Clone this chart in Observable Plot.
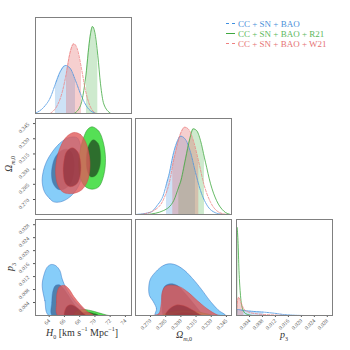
<!DOCTYPE html>
<html><head><meta charset="utf-8">
<script src="https://cdn.jsdelivr.net/npm/d3@7"></script>
<script src="https://cdn.jsdelivr.net/npm/@observablehq/plot@0.6"></script>
<style>
body{margin:0;background:#fff;}
#root{position:relative;width:350px;height:350px;font-family:"Liberation Serif",serif;color:#333;overflow:hidden;}
.lab{position:absolute;font-size:10px;white-space:nowrap;color:#333;line-height:1;}
.leg{position:absolute;font-size:9px;white-space:nowrap;line-height:10px;}
.leg span.s{display:inline-block;width:9px;height:0;vertical-align:middle;margin-right:3px;position:relative;top:-1px;}
</style></head><body><div id="root"></div>
<script>
// ---------------- data ----------------
const seriesNames = ["CC + SN + BAO", "CC + SN + BAO + R21", "CC + SN + BAO + W21"];
const h0Ticks = [64, 66, 68, 70, 72, 74];
const omTicks = [0.270, 0.285, 0.300, 0.315, 0.330, 0.345];
const p3Ticks = [0.004, 0.008, 0.012, 0.016, 0.020, 0.024, 0.028];
const h0Domain = [62.2, 74.8];
const omDomain = [0.2552, 0.3500];
const p3Domain = [0, 0.0296];

// 1D marginal of H0 (value, relative density)
const h0Blue = [[62.2,0.003],[63.29,0.066],[64.17,0.17],[64.82,0.31],[65.48,0.44],[66.14,0.50],[66.79,0.466],[67.45,0.344],[68.11,0.205],[68.98,0.066],[70.07,0.003]];
const h0Green = [[67.32,0.003],[68.11,0.083],[68.54,0.24],[68.89,0.45],[69.19,0.69],[69.42,0.83],[69.68,0.906],[69.98,0.847],[70.38,0.604],[70.73,0.31],[71.16,0.10],[72.04,0.003]];
const h0Red = [[64.17,0.003],[65.05,0.083],[65.70,0.22],[66.27,0.43],[66.70,0.62],[67.23,0.726],[67.75,0.656],[68.24,0.466],[68.76,0.24],[69.33,0.083],[70.07,0.003]];
const h0Bands = {blue: [64.82, 67.45], green: [68.89, 70.38], red: [66.27, 68.24]};

// 1D marginal of Omega_m0
const omBlue = [[0.2552,0],[0.2700,0.024],[0.2766,0.094],[0.2831,0.215],[0.2858,0.32],[0.2881,0.406],[0.2930,0.649],[0.2964,0.76],[0.2996,0.816],[0.3046,0.781],[0.3095,0.649],[0.3144,0.44],[0.3194,0.25],[0.3260,0.094],[0.3342,0.018],[0.3424,0]];
const omGreen = [[0.2668,0],[0.2831,0.042],[0.2930,0.146],[0.2980,0.29],[0.2996,0.336],[0.3046,0.58],[0.3088,0.788],[0.3122,0.892],[0.3155,0.875],[0.3194,0.77],[0.3233,0.59],[0.3243,0.545],[0.3293,0.32],[0.3352,0.146],[0.3424,0.035],[0.3490,0]];
const omRed = [[0.2601,0],[0.2733,0.042],[0.2831,0.163],[0.2898,0.389],[0.2920,0.52],[0.2947,0.649],[0.2996,0.84],[0.3039,0.909],[0.3078,0.885],[0.3128,0.753],[0.3177,0.545],[0.3226,0.32],[0.3293,0.128],[0.3375,0.024],[0.3458,0]];
const omBands = {blue: [0.2858, 0.3144], green: [0.2980, 0.3233], red: [0.2920, 0.3177]};

// 1D marginal of p3
const p3Blue = [[0,0],[0.0002,0.0625],[0.00225,0.052],[0.00533,0.042],[0.0084,0.035],[0.0115,0.024],[0.0146,0.010],[0.0177,0.003],[0.0208,0]];
const p3Green = [[0,0],[0.0001,0.92],[0.00046,0.78],[0.00077,0.47],[0.00123,0.21],[0.00185,0.073],[0.0028,0.02],[0.0049,0]];
const p3Red = [[0,0],[0.0002,0.12],[0.0007,0.19],[0.00145,0.13],[0.00225,0.07],[0.0038,0.035],[0.0064,0.017],[0.0105,0.007],[0.0156,0]];
const p3Bands = {blue: [0, 0.0084], green: [0, 0.00046], red: [0, 0.00225]};

// 2D contours H0 - Omega_m0 (68% inner, 95% outer)
const hoBlueOuter = [[64.60,0.2677],[64.05,0.2710],[63.38,0.2776],[63.08,0.2875],[63.21,0.2974],[63.64,0.3072],[64.26,0.3154],[65.05,0.3230],[65.91,0.3286],[66.79,0.3315],[67.67,0.3309],[68.11,0.3236],[68.46,0.3105],[68.33,0.2940],[67.67,0.2809],[66.57,0.2717],[65.48,0.2677]];
const hoBlueInner = [[64.30,0.2940],[64.43,0.3039],[64.82,0.3122],[65.48,0.3177],[66.27,0.3197],[66.88,0.3171],[67.23,0.3088],[67.23,0.2974],[66.79,0.2858],[65.91,0.2802],[65.13,0.2802],[64.52,0.2858]];
const hoGreenOuter = [[69.64,0.3418],[70.51,0.3375],[71.08,0.3270],[71.39,0.3105],[71.16,0.2940],[70.51,0.2826],[69.64,0.2802],[68.76,0.2826],[68.11,0.2908],[67.88,0.3039],[68.11,0.3204],[68.63,0.3335],[69.06,0.3394]];
const hoGreenInner = [[69.77,0.3290],[70.43,0.3253],[70.73,0.3154],[70.64,0.3023],[70.07,0.2934],[69.42,0.2924],[68.98,0.2989],[68.89,0.3122],[69.19,0.3236]];
const hoRedOuter = [[67.23,0.3362],[68.11,0.3342],[68.76,0.3270],[69.25,0.3138],[69.33,0.3006],[68.98,0.2875],[68.20,0.2792],[67.02,0.2759],[65.91,0.2769],[65.22,0.2826],[64.86,0.2940],[64.96,0.3088],[65.48,0.3221],[66.27,0.3319]];
const hoRedInner = [[67.02,0.3211],[67.75,0.3171],[68.11,0.3072],[68.11,0.2957],[67.67,0.2858],[66.79,0.2826],[66.14,0.2858],[65.84,0.2957],[65.91,0.3072],[66.27,0.3171]];

// 2D contours H0 - p3
const hpBlueOuter = [[63.95,0],[63.42,0.00463],[63.08,0.00925],[63.29,0.01233],[63.74,0.01490],[64.26,0.01572],[64.82,0.01542],[65.39,0.01388],[65.70,0.01130],[66.14,0.00874],[66.79,0.00617],[67.67,0.00360],[68.76,0.00154],[69.85,0.00021],[70.30,0]];
const hpBlueInner = [[64.39,0],[64.34,0.00411],[64.47,0.00740],[64.82,0.00925],[65.31,0.00946],[65.84,0.00843],[66.36,0.00668],[67.23,0.00360],[68.11,0.00103],[68.54,0]];
const hpGreenOuter = [[67.23,0],[67.45,0.00123],[68.33,0.00185],[69.42,0.00154],[70.51,0.00082],[71.61,0.0001],[71.82,0]];
const hpGreenInner = [[68.11,0],[68.33,0.00082],[69.19,0.00103],[70.07,0.00051],[70.51,0]];
const hpRedOuter = [[65.13,0],[64.96,0.00411],[65.05,0.00720],[65.39,0.00894],[66.01,0.00925],[66.57,0.00822],[67.23,0.00586],[68.11,0.00329],[68.98,0.00123],[69.85,0]];
const hpRedInner = [[66.01,0],[66.05,0.00154],[66.36,0.00288],[66.88,0.00329],[67.58,0.00257],[68.33,0.00103],[68.76,0]];

// 2D contours Omega_m0 - p3
const opBlueOuter = [[0.2749,0],[0.2759,0.00206],[0.2727,0.00432],[0.2690,0.00617],[0.2683,0.00874],[0.2700,0.01130],[0.2749,0.01336],[0.2816,0.01521],[0.2881,0.01593],[0.2947,0.01562],[0.3029,0.01408],[0.3112,0.01151],[0.3194,0.00843],[0.3293,0.00432],[0.3375,0.00154],[0.3441,0]];
const opBlueInner = [[0.2831,0],[0.2816,0.00308],[0.2816,0.00668],[0.2841,0.00904],[0.2898,0.00977],[0.2964,0.00925],[0.3046,0.00668],[0.3128,0.00360],[0.3194,0.00103],[0.3220,0]];
const opGreenOuter = [[0.2816,0],[0.2865,0.00082],[0.2964,0.00154],[0.3095,0.00154],[0.3211,0.00082],[0.3309,0]];
const opGreenInner = [[0.2914,0],[0.2980,0.00072],[0.3095,0.00072],[0.3177,0]];
const opRedOuter = [[0.2727,0],[0.2782,0.00051],[0.2806,0.00360],[0.2816,0.00720],[0.2848,0.00894],[0.2914,0.00935],[0.2996,0.00874],[0.3078,0.00699],[0.3161,0.00463],[0.3260,0.00206],[0.3359,0.00021],[0.3391,0]];
const opRedInner = [[0.2848,0],[0.2881,0.00185],[0.2947,0.00319],[0.3023,0.00308],[0.3112,0.00175],[0.3194,0.00021],[0.3211,0]];

// ---------------- styles ----------------
const FONT = "Liberation Serif";
const SIZE = 96;
const COL = {
  blue:  {line:"#3f8fe0", outer:"#86cdf9", inner:"#4f80ad", edge:"#2f6fc0", band:"#5aa0e0", dash:"1.6,1"},
  green: {line:"#3fa83f", outer:"#55e055", inner:"#2d6e2d", edge:"#2a8a2a", band:"#5cb85c", dash:null},
  red:   {line:"#ef8080", outer:"#e05a5a", inner:"#8e2f3a", edge:"#d04848", band:"#e06060", dash:"2.5,1.5"}
};
const root = document.getElementById("root");
const X = d => d[0], Y = d => d[1];

function panel(left, top, xDomain, yDomain, marks) {
  const svg = Plot.plot({
    width: SIZE, height: SIZE, margin: 0,
    x: {domain: xDomain, axis: null},
    y: {domain: yDomain, axis: null},
    style: {overflow: "visible", background: "transparent", fontFamily: FONT, color: "#444"},
    marks: [...marks, Plot.frame({stroke: "#808080", strokeWidth: 1})]
  });
  svg.style.position = "absolute";
  svg.style.left = left + "px";
  svg.style.top = top + "px";
  root.append(svg);
}

function diag(curves, bands) {
  const marks = [];
  for (const [key, data] of curves) {
    const b = bands[key];
    marks.push(Plot.areaY(data.filter(d => d[0] >= b[0] && d[0] <= b[1]),
      {x: X, y: Y, fill: COL[key].band, fillOpacity: 0.3, curve: "monotone-x", clip: true}));
  }
  for (const [key, data] of curves) {
    marks.push(Plot.line(data, {x: X, y: Y, stroke: COL[key].line, strokeWidth: 0.8,
      strokeDasharray: COL[key].dash, curve: "monotone-x", clip: true}));
  }
  return marks;
}

function contours(sets) {
  const marks = [];
  for (const [key, outer, inner] of sets) {
    const c = COL[key];
    const op = key === "red" ? 0.8 : 1;
    const iop = key === "red" ? 0.7 : 1;
    marks.push(Plot.line(outer, {x: X, y: Y, fill: c.outer, fillOpacity: op, stroke: c.edge,
      strokeWidth: 0.5, strokeDasharray: key === "blue" ? "1.2,0.8" : null, curve: "catmull-rom-closed", clip: true}));
    marks.push(Plot.line(inner, {x: X, y: Y, fill: c.inner, fillOpacity: iop, stroke: c.edge,
      strokeWidth: 0.4, strokeDasharray: key === "blue" ? "1.2,0.8" : null, curve: "catmull-rom-closed", clip: true}));
  }
  return marks;
}

const axisOpts = {tickSize: 2, tickRotate: -45, fontSize: 5.6, label: null, color: "#555"};
const xAx = (ticks, fmt) => Plot.axisX({...axisOpts, ticks, tickFormat: fmt, tickPadding: 2.5});
const yAx = (ticks, fmt) => Plot.axisY({...axisOpts, ticks, tickFormat: fmt, tickPadding: 5});
const f3 = d3.format(".3f");
const fd = d3.format("d");

const colL = [35, 135, 236];
const rowT = [17, 118, 219];

// Row 1
panel(colL[0], rowT[0], h0Domain, [0, 1],
  diag([["blue", h0Blue], ["green", h0Green], ["red", h0Red]], h0Bands));

// Row 2
panel(colL[0], rowT[1], h0Domain, omDomain, [
  ...contours([["blue", hoBlueOuter, hoBlueInner], ["green", hoGreenOuter, hoGreenInner], ["red", hoRedOuter, hoRedInner]]),
  yAx(omTicks, f3)
]);
panel(colL[1], rowT[1], omDomain, [0, 1],
  diag([["blue", omBlue], ["green", omGreen], ["red", omRed]], omBands));

// Row 3
panel(colL[0], rowT[2], h0Domain, p3Domain, [
  ...contours([["blue", hpBlueOuter, hpBlueInner], ["green", hpGreenOuter, hpGreenInner], ["red", hpRedOuter, hpRedInner]]),
  yAx(p3Ticks, f3), xAx(h0Ticks, fd)
]);
panel(colL[1], rowT[2], omDomain, p3Domain, [
  ...contours([["blue", opBlueOuter, opBlueInner], ["green", opGreenOuter, opGreenInner], ["red", opRedOuter, opRedInner]]),
  xAx(omTicks, f3)
]);
panel(colL[2], rowT[2], p3Domain, [0, 1], [
  ...diag([["blue", p3Blue], ["green", p3Green], ["red", p3Red]], p3Bands),
  xAx(p3Ticks, f3)
]);

// Axis titles
function label(html, x, y, rot) {
  const d = document.createElement("div");
  d.className = "lab";
  d.innerHTML = html;
  d.style.left = x + "px";
  d.style.top = y + "px";
  d.style.transform = "translate(-50%,-50%)" + (rot ? " rotate(-90deg)" : "");
  root.append(d);
}
const OM = "<i>Ω</i><sub style='font-size:6px'><i>m</i>,0</sub>";
label(OM, 10, 164, true);
label("<i>p</i><sub style='font-size:6px'>3</sub>", 11, 267, true);
label("<i>H</i><sub style='font-size:6px'>0</sub> [km s<sup style='font-size:6px'>−1</sup> Mpc<sup style='font-size:6px'>−1</sup>]", 82, 333, false);
label(OM, 184, 336, false);
label("<i>p</i><sub style='font-size:6px'>3</sub>", 284, 336, false);

// Legend
const legKeys = ["blue", "green", "red"];
const legTextCol = {blue: "#4a90d9", green: "#5cb85c", red: "#e57373"};
seriesNames.forEach((name, i) => {
  const k = legKeys[i];
  const d = document.createElement("div");
  d.className = "leg";
  d.style.left = "226px";
  d.style.top = (19 + i * 10) + "px";
  d.style.color = legTextCol[k];
  const style = k === "green" ? "solid" : "dashed";
  d.innerHTML = `<span class="s" style="border-top:1px ${style} ${COL[k].line}"></span>${name}`;
  root.append(d);
});
</script></body></html>
